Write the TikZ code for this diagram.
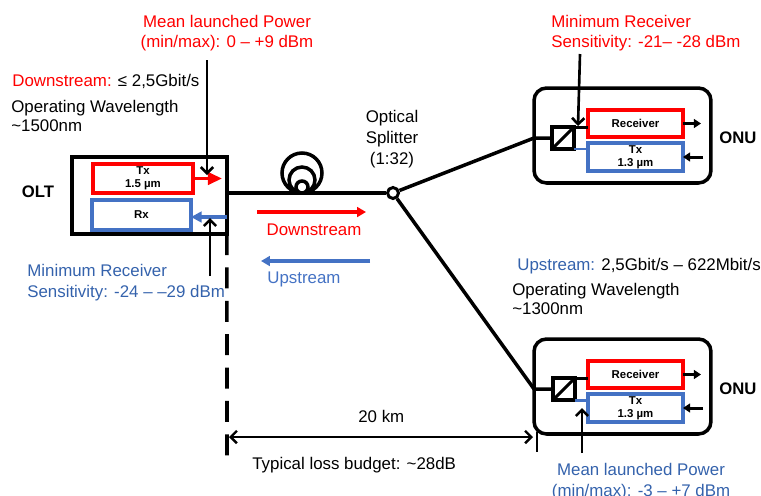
\documentclass[tikz,border=0pt]{standalone}
\usepackage{fontspec}
\setmainfont{Liberation Sans}
\usetikzlibrary{arrows.meta}
\definecolor{dsred}{RGB}{255,0,0}
\definecolor{usblue}{RGB}{68,114,196}
\definecolor{ustext}{RGB}{52,98,172}

\begin{document}
\begin{tikzpicture}[x=0.02cm, y=-0.02cm,
    unit/.style={draw, line width=2pt, inner sep=0pt, outer sep=0pt},
    redbox/.style={draw=dsred, line width=1.8pt, inner sep=0pt, outer sep=0pt, align=center, font=\bfseries\fontsize{6.5}{7.5}\selectfont},
    bluebox/.style={redbox, draw=usblue},
    coupler/.style={draw, line width=2pt, minimum size=0.44cm, inner sep=0pt, outer sep=0pt},
    tag/.style={font=\bfseries\fontsize{9.5}{11}\selectfont, inner sep=0pt},
    note/.style={font=\fontsize{9.6}{11.3}\selectfont, inner sep=0pt, align=left},
    pointer/.style={line width=1.5pt, -{Straight Barb[length=3.5pt, width=7pt]}},
    fibre/.style={line width=2pt},
    flow/.style={line width=2pt, -{Triangle[length=5pt, width=5.5pt]}},
    port/.style={line width=1.7pt, -{Triangle[length=4pt, width=5pt]}}
  ]
  \useasboundingbox (0,0) rectangle (761,495);

  % OLT
  \node[unit, minimum width=3.1cm, minimum height=1.54cm] (olt) at (149.5,195.5) {};
  \node[redbox, minimum width=2cm, minimum height=0.58cm] (olttx) at (143,178.5) {Tx\\1.5 µm};
  \node[bluebox, minimum width=1.98cm, minimum height=0.6cm] (oltrx) at (141.5,215) {Rx};
  \node[tag] (oltname) at (38,192) {OLT};
  \coordinate (olttxout) at (222,178.5);
  \coordinate (oltrxin) at (227,217);
  \draw[dsred, line width=1.8pt, -{Triangle[length=8pt, width=7pt]}] (olttx.east) -- (olttxout);
  \draw[usblue, line width=1.8pt, -{Triangle[length=6pt, width=6pt]}] (oltrxin) -- (oltrxin -| oltrx.east);

  % Fibre, coil and splitter
  \node[draw, circle, fill=white, line width=1.7pt, minimum size=0.22cm, inner sep=0pt] (spl) at (393,193) {};
  \coordinate (fibin) at (227,193);
  \draw[fibre] (fibin) -- (spl);
  \draw[fibre] (302,173) circle (0.4cm) (302,180) circle (0.26cm) (302,187) circle (0.12cm);
  \node[note, font=\fontsize{9.6}{11.9}\selectfont, align=center, anchor=north] (splname) at (392,110) {Optical\\Splitter\\(1:32)};

  % ONU (upper)
  \node[unit, rounded corners=0.25cm, minimum width=3.54cm, minimum height=1.9cm] (onuA) at (622.5,135.5) {};
  \node[coupler] (sqA) at (563,138) {};
  \draw[line width=1.7pt] (sqA.south west) -- (sqA.north east);
  \node[redbox, minimum width=1.9cm, minimum height=0.54cm] (rcvA) at (635.5,123.5) {Receiver};
  \node[bluebox, minimum width=1.9cm, minimum height=0.56cm] (txA) at (635.5,157) {Tx\\1.3 µm};
  \draw[line width=1.7pt] (sqA.north east) -- (sqA.north east -| rcvA.west);
  \draw[usblue, line width=1.7pt] (sqA.south east) -- (sqA.south east -| txA.west);
  \draw[fibre] (spl) -- (sqA.west -| onuA.west) -- (sqA.west);
  \coordinate (rcvAout) at (701,123.5);
  \coordinate (txAin) at (703,157);
  \draw[port] (rcvA.east) -- (rcvAout);
  \draw[port] (txAin) -- (txA.east);
  \node[tag] (onuAname) at (738,138) {ONU};

  % ONU (lower)
  \node[unit, rounded corners=0.25cm, minimum width=3.54cm, minimum height=1.9cm] (onuB) at (622.5,386.5) {};
  \node[coupler] (sqB) at (564,389) {};
  \draw[line width=1.7pt] (sqB.south west) -- (sqB.north east);
  \node[redbox, minimum width=1.9cm, minimum height=0.54cm] (rcvB) at (635.5,374.5) {Receiver};
  \node[bluebox, minimum width=1.9cm, minimum height=0.56cm] (txB) at (635.5,408) {Tx\\1.3 µm};
  \draw[line width=1.7pt] (sqB.north east) -- (sqB.north east -| rcvB.west);
  \draw[usblue, line width=1.7pt] (sqB.south east) -- (sqB.south east -| txB.west);
  \draw[fibre] (spl) -- (sqB.west -| onuB.west) -- (sqB.west);
  \coordinate (rcvBout) at (701,374.5);
  \coordinate (txBin) at (703,408);
  \draw[port] (rcvB.east) -- (rcvBout);
  \draw[port] (txBin) -- (txB.east);
  \node[tag] (onuBname) at (738,389) {ONU};

  % Downstream / upstream
  \coordinate (dsL) at (257,212);
  \coordinate (dsR) at (366,212);
  \coordinate (usR) at (370,261);
  \coordinate (usL) at (261,261);
  \draw[flow, dsred] (dsL) -- (dsR);
  \draw[flow, usblue] (usR) -- (usL);
  \node[note, text=dsred, anchor=base] (dsname) at (314,235) {Downstream};
  \node[note, text=usblue, anchor=base west] (usname) at (267,283) {Upstream};

  % OLT side labels
  \node[note, text=dsred, align=center, anchor=north] (pwrD) at (227,15) {Mean launched Power\\(min/max): 0 – +9 dBm};
  \coordinate (pwrDtop) at (207,60);
  \coordinate (pwrDtip) at (207,175);
  \draw[pointer] (pwrDtop) -- (pwrDtip);
  \node[note, anchor=base west] (rateD) at (12,86) {\textcolor{dsred}{Downstream:} ≤ 2,5Gbit/s};
  \node[note, font=\fontsize{9.6}{10.9}\selectfont, anchor=north west] (waveD) at (11,100) {Operating Wavelength\\\textasciitilde1500nm};
  \node[note, font=\fontsize{9.6}{11.9}\selectfont, text=ustext, anchor=north west] (sensU) at (27,264) {Minimum Receiver\\Sensitivity: -24 – –29 dBm};
  \coordinate (sensUbot) at (210,276);
  \coordinate (sensUtip) at (210,218);
  \draw[pointer] (sensUbot) -- (sensUtip);

  % ONU side labels
  \node[note, text=dsred, anchor=north west] (sensD) at (551,15) {Minimum Receiver\\Sensitivity: -21– -28 dBm};
  \coordinate (sensDtop) at (580,54);
  \coordinate (sensDtip) at (578,126);
  \draw[pointer] (sensDtop) -- (sensDtip);
  \node[note, anchor=base west] (rateU) at (517,270) {\textcolor{ustext}{Upstream:} 2,5Gbit/s – 622Mbit/s};
  \node[note, font=\fontsize{9.6}{10.9}\selectfont, anchor=north west] (waveU) at (512,283) {Operating Wavelength\\\textasciitilde1300nm};
  \node[note, font=\fontsize{9.6}{11.9}\selectfont, text=ustext, align=center, anchor=north] (pwrU) at (641,463) {Mean launched Power\\(min/max): -3 – +7 dBm};
  \coordinate (pwrUbot) at (582,453);
  \coordinate (pwrUtip) at (582,408);
  \draw[pointer] (pwrUbot) -- (pwrUtip);

  % Reach and loss budget
  \coordinate (dashend) at (227,461);
  \draw[line width=2pt, dash pattern=on 12pt off 7pt] (olt.south east) -- (dashend);
  \coordinate (kmL) at (229,437);
  \coordinate (kmR) at (533,437);
  \coordinate (tickT) at (537,432);
  \coordinate (tickB) at (537,452);
  \draw[line width=1.4pt, {Straight Barb[length=3.5pt, width=7pt]}-{Straight Barb[length=3.5pt, width=7pt]}] (kmL) -- (kmR);
  \draw[line width=1.4pt] (tickT) -- (tickB);
  \node[note, anchor=base west] (reach) at (358,422) {20 km};
  \node[note, anchor=base west] (budget) at (252,469) {Typical loss budget: \textasciitilde28dB};
\end{tikzpicture}
\end{document}
